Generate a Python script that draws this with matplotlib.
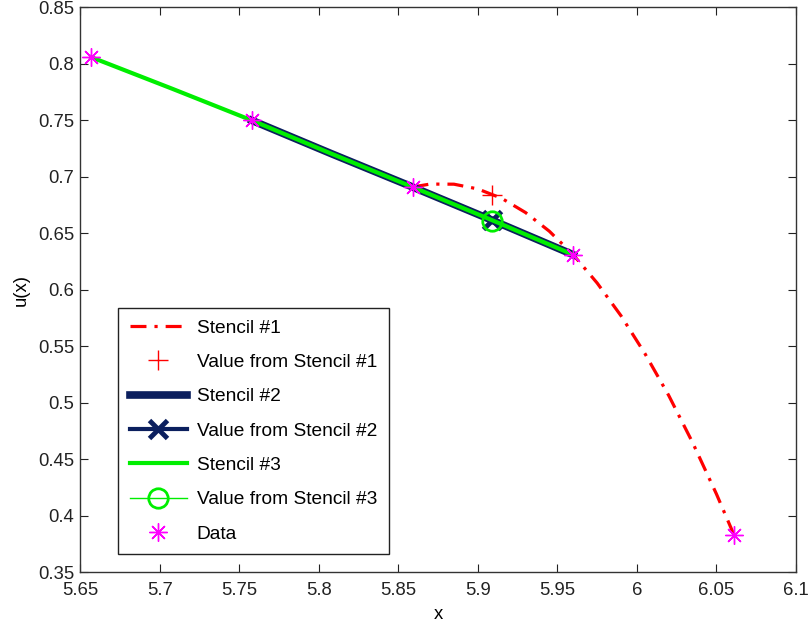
import matplotlib.pyplot as plt
import numpy as np

plt.rcParams['font.family'] = ['Liberation Sans', 'DejaVu Sans']

# data points (stars)
xd = [5.657, 5.758, 5.859, 5.960, 6.061]
yd = [0.806, 0.750, 0.691, 0.631, 0.383]

# stencil #1 curve
x1 = [5.859, 5.870, 5.885, 5.900, 5.915, 5.930, 5.945, 5.960,
      5.975, 5.990, 6.005, 6.020, 6.035, 6.050, 6.061]
y1 = [0.691, 0.6936, 0.6935, 0.6893, 0.681, 0.6684, 0.6518, 0.631,
      0.606, 0.577, 0.5436, 0.5064, 0.4647, 0.4191, 0.383]

# stencil #2 curve
x2 = [5.758, 5.808, 5.859, 5.910, 5.960]
y2 = [0.750, 0.7205, 0.691, 0.661, 0.631]

# stencil #3 curve
x3 = [5.657, 5.708, 5.758, 5.808, 5.859, 5.910, 5.960]
y3 = [0.806, 0.778, 0.750, 0.7205, 0.691, 0.661, 0.631]

# interpolated values at x*
xv = 5.909
v1 = 0.684
v2 = 0.6615
v3 = 0.661

red = '#ff0000'
navy = '#0b1f5e'
green = '#00ee00'
mag = '#ff00ff'

fig = plt.figure(figsize=(8.1, 6.24), dpi=100)
ax = fig.add_axes([0.0988, 0.0833, 0.8839, 0.9047])

ax.plot(x1, y1, color=red, lw=2.3, dashes=(5, 2.5, 1, 2.5), label='Stencil #1')
ax.plot([xv], [v1], '+', color=red, ms=14, mew=1, label='Value from Stencil #1')
ax.plot(x2, y2, color=navy, lw=5.5, label='Stencil #2')
ax.plot([xv], [v2], '-x', color=navy, lw=3, ms=13, mew=3.5, label='Value from Stencil #2')
ax.plot(x3, y3, color=green, lw=3, label='Stencil #3')
ax.plot([xv], [v3], '-o', color=green, lw=1, ms=14, mew=2, mfc='none', label='Value from Stencil #3')
ax.plot(xd, yd, ls='none', marker=(8, 2, 0), color=mag, ms=13, mew=1, label='Data')

ax.set_xlim(5.65, 6.1)
ax.set_ylim(0.35, 0.85)
ax.set_xticks(np.arange(5.65, 6.101, 0.05))
ax.set_xticklabels(['5.65', '5.7', '5.75', '5.8', '5.85', '5.9', '5.95', '6', '6.05', '6.1'])
ax.set_yticks(np.arange(0.35, 0.851, 0.05))
ax.set_yticklabels(['0.35', '0.4', '0.45', '0.5', '0.55', '0.6', '0.65', '0.7', '0.75', '0.8', '0.85'])
ax.tick_params(direction='in', length=6, width=0.8, top=True, right=True,
               labelsize=13.3, colors='#222222', pad=4)
ax.tick_params(axis='x', pad=7)
for s in ax.spines.values():
    s.set_color('#333333')
    s.set_linewidth(1)

ax.set_xlabel('x', fontsize=13.3, labelpad=5)
ax.set_ylabel('u(x)', fontsize=13.3, labelpad=6)

leg = ax.legend(loc='lower left', bbox_to_anchor=(0.0531, 0.0319), borderaxespad=0,
                fontsize=13.8, handlelength=3.0, handletextpad=0.5,
                labelspacing=0.88, borderpad=0.6,
                fancybox=False, framealpha=1, edgecolor='#222222')
leg.get_frame().set_linewidth(1)

fig.savefig('out.png', dpi=100)
